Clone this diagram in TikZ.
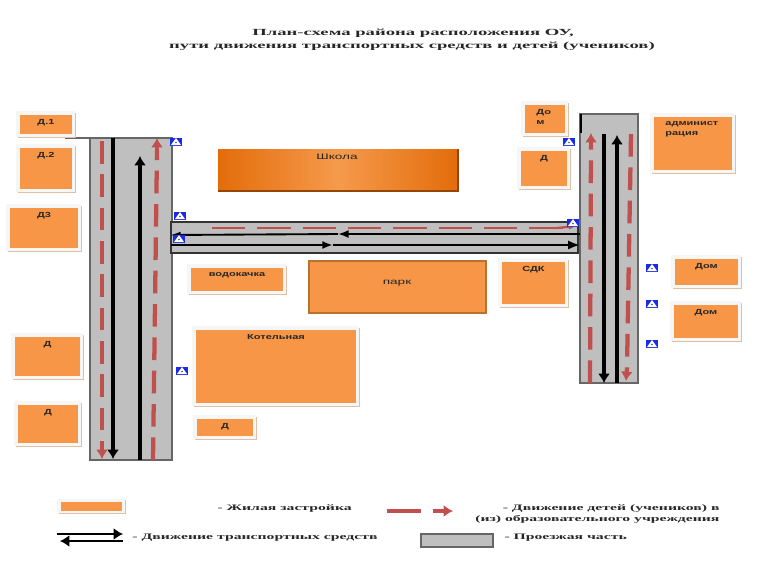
\documentclass[tikz,border=0pt]{standalone}
\usepackage{fontspec}
\setmainfont{Liberation Serif}
\newfontfamily\labelfont{Liberation Sans}
\usetikzlibrary{arrows.meta}
\definecolor{houseorange}{HTML}{F79646}
\definecolor{houseshadow}{HTML}{E0BFA5}
\definecolor{halo}{HTML}{F6F6F6}
\definecolor{roadgrey}{HTML}{BFBFBF}
\definecolor{walkred}{HTML}{C0504D}
\definecolor{schooldark}{HTML}{E36C0A}
\definecolor{schoollight}{HTML}{F59A4C}
\definecolor{parkedge}{HTML}{B9712F}
\definecolor{signblue}{HTML}{1A2BE8}
\tikzset{
	road/.style={fill=roadgrey, draw=black!60, line width=0.8pt},
	car/.style={black, line width=3pt, -{Latex[length=7pt,width=9pt]}},
	thincar/.style={black, line width=1.4pt},
	walk/.style={walkred, line width=3.2pt, dash pattern=on 17pt off 8pt},
	walkhead/.style={walkred, line width=3.2pt, -{Latex[length=7pt,width=9pt]}},
	houselabel/.style={font=\labelfont\bfseries\fontsize{5.5}{7.5}\selectfont, xscale=1.5, align=left, text=black!85, inner sep=0pt},
	plainlabel/.style={font=\labelfont\fontsize{6}{7}\selectfont, xscale=1.7, text=black!85, inner sep=0pt},
	textline/.style={font=\bfseries\fontsize{6.3}{7}\selectfont, xscale=1.87, text=black!85, inner sep=0pt},
	titleline/.style={font=\bfseries\fontsize{7}{8}\selectfont, xscale=2, text=black!85, inner sep=0pt},
	signbox/.style={fill=signblue, inner sep=0pt, minimum width=9.5pt, minimum height=6.5pt}
}
\begin{document}
\begin{tikzpicture}[x=0.75pt, y=-0.75pt]
	\useasboundingbox (0,0) rectangle (768,576);
	% title
	\node[titleline] (title1) at (413,33) {План-схема района расположения ОУ,};
	\node[titleline] (title2) at (412,46) {пути движения транспортных средств и детей (учеников)};

	% roads
	\draw[road] (90,138) rectangle (172,460);
	\draw[black!60, line width=0.8pt] (65,138) -- (90,138);
	\draw[road, draw=black!80] (171,222) rectangle (578,253);
	\draw[road] (580,114) rectangle (638,383);
	\draw[black, line width=1.3pt] (581,114) -- (581,133);

	% houses
	\foreach \n/\xa/\ya/\xb/\yb/\txt in {
		a/20/115/72/134/Д.1, b/20/148/72/189/Д.2, c/10/208/78/248/Д3,
		d/15/337/80/376/Д, e/18/405/78/443/Д, f/191/268/283/291/водокачка,
		g/196/330/356/403/Котельная, i/197/419/253/436/Д, j/502/262/565/304/СДК,
		l/521/151/567/186/Д, n/675/259/738/285/Дом, o/674/305/738/338/Дом}
	{
		\fill[houseshadow] (\xa-2,\ya-2) rectangle (\xb+4,\yb+4);
		\fill[halo] (\xa-4,\ya-4) rectangle (\xb+3,\yb+3);
		\fill[houseorange] (\xa,\ya) rectangle (\xb,\yb);
		\node[houselabel, anchor=north] (h\n) at ({(\xa+\xb)/2},\ya+4) {\txt};
	}
	\foreach \n/\xa/\ya/\xb/\yb/\tx/\txt in {
		k/525/105/565/133/536/{До\\м}, m/654/117/732/170/665/{админист\\рация}}
	{
		\fill[houseshadow] (\xa-2,\ya-2) rectangle (\xb+4,\yb+4);
		\fill[halo] (\xa-4,\ya-4) rectangle (\xb+3,\yb+3);
		\fill[houseorange] (\xa,\ya) rectangle (\xb,\yb);
		\node[houselabel, anchor=north west] (h\n) at (\tx,\ya+4) {\txt};
	}
	% school and park
	\shade[left color=schooldark, right color=schooldark, middle color=schoollight] (218,149) rectangle (458,191);
	\draw[black!35!schooldark, line width=0.8pt] (218,191) -- (458,191) -- (458,149);
	\node[plainlabel] (school) at (337,157) {Школа};
	\draw[fill=houseorange, draw=parkedge, line width=1.5pt] (309,261) rectangle (486,313);
	\node[plainlabel] (park) at (397,283) {парк};

	% pupils
	\foreach \xa/\ya/\xb/\yb in {102/141/102/448, 153/460/157/150, 590/383/591/145, 631/134/627/368}
	{
		\draw[walk] (\xa,\ya) -- (\xb,\yb);
	}
	\draw[walkhead] (102,447) -- (102,459);
	\draw[walkhead] (157,150) -- (157,138);
	\draw[walkhead] (591,145) -- (591,133);
	\draw[walkhead] (627,368) -- (626,381);
	\draw[walkred, line width=1.6pt, dash pattern=on 25pt off 9pt] (212,228) -- (566,228);
	\draw[walkred, line width=1.6pt, -{Latex[length=7pt,width=4pt]}] (556,228) -- (578,226);

	% vehicles
	\draw[car] (113,138) -- (113,459);
	\draw[car] (140,460) -- (140,156);
	\draw[car] (604,134) -- (604,383);
	\draw[car] (617,383) -- (617,135);
	\draw[thincar, -{Latex[length=8pt,width=6pt]}] (580,234) -- (338,234);
	\draw[thincar, -{Latex[length=8pt,width=5pt]}] (338,234) -- (170,235);
	\draw[thincar, line width=1.8pt, -{Latex[length=8pt,width=6pt]}] (171,245) -- (333,245);
	\draw[thincar, line width=1.8pt, -{Latex[length=9pt,width=7pt]}] (333,245) -- (580,245);

	% signs
	\foreach \n/\x/\y in {1/176/142, 2/180/216, 3/179/239, 4/182/371, 5/569/142, 6/573/223, 7/652/268, 8/652/304, 9/652/344}
	{
		\node[signbox] (s\n) at (\x,\y) {};
		\fill[white] ([shift={(-5,3)}]s\n.center) -- ([shift={(5,3)}]s\n.center) -- ([shift={(0,-4)}]s\n.center) -- cycle;
		\fill[black!70] ([shift={(0,0.5)}]s\n.center) circle (0.7pt);
	}

	% legend
	\fill[houseshadow] (59,500) rectangle (126,514);
	\fill[halo] (57,499) rectangle (125,513);
	\fill[houseorange] (61,502) rectangle (122,511);
	\node[textline, anchor=west] (legend1) at (217,508) {-  Жилая застройка};
	\draw[walkred, line width=2.6pt] (387,511) -- (421,511);
	\draw[walkhead, line width=2.6pt] (433,511) -- (453,511);
	\node[textline, anchor=east] (legend2) at (720,508) {- Движение детей (учеников) в};
	\node[textline, anchor=east] (legend3) at (720,519) {(из) образовательного учреждения};
	\draw[car, line width=2pt] (57,534) -- (123,534);
	\draw[car, line width=2pt] (123,541) -- (60,541);
	\node[textline, anchor=west] (legend4) at (132,538) {- Движение транспортных  средств};
	\draw[road] (421,534) rectangle (493,547);
	\node[textline, anchor=west] (legend5) at (504,538) {- Проезжая часть};
\end{tikzpicture}
\end{document}
